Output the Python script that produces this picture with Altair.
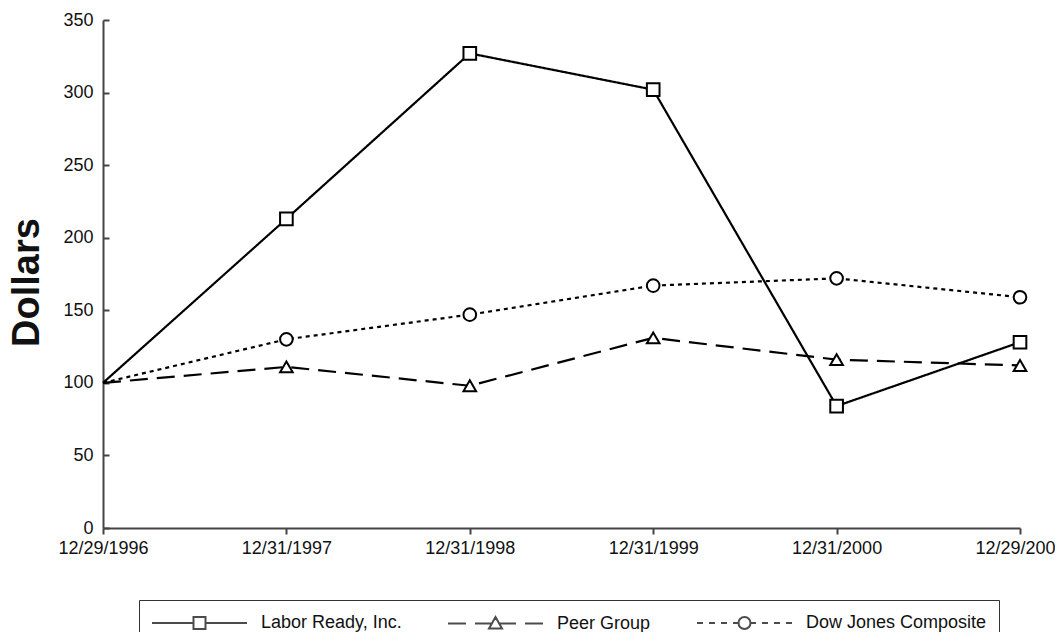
import altair as alt
import pandas as pd

dates = ["12/29/1996", "12/31/1997", "12/31/1998", "12/31/1999", "12/31/2000", "12/29/2001"]
series = ["Labor Ready, Inc.", "Peer Group", "Dow Jones Composite"]
labor_ready = [100, 213, 327, 302, 84, 128]
peer_group = [100, 111, 98, 131, 116, 112]
dow_jones = [100, 130, 147, 167, 172, 159]
y_ticks = [0, 50, 100, 150, 200, 250, 300, 350]

rows = []
for name, vals in zip(series, [labor_ready, peer_group, dow_jones]):
    for d, v in zip(dates, vals):
        rows.append({"date": d, "value": v, "series": name})
df = pd.DataFrame(rows)

FONT = "Liberation Sans, Arial, Helvetica, sans-serif"
W, H = 917, 508

# legend symbols: line + marker drawn as one path (units scale 10px)
legend_paths = [
    "M-1,0L3.15,0M4.35,0L8.5,0M3.15,-0.6L4.35,-0.6L4.35,0.6L3.15,0.6Z",
    "M-1,0L0.8,0M1.7,0L3.38,0M4.12,0L5.8,0M6.7,0L8.5,0M3.75,-0.65L4.4,0.5L3.1,0.5Z",
    "M-1,0L-0.4,0M0.2,0L0.8,0M1.4,0L2,0M2.6,0L3.15,0M4.35,0L4.9,0M5.5,0L6.1,0M6.7,0L7.3,0M7.9,0L8.5,0"
    "M4.35,0C4.35,0.3314 4.0814,0.6 3.75,0.6C3.4186,0.6 3.15,0.3314 3.15,0"
    "C3.15,-0.3314 3.4186,-0.6 3.75,-0.6C4.0814,-0.6 4.35,-0.3314 4.35,0Z",
]

x_enc = alt.X(
    "date:O",
    sort=dates,
    scale=alt.Scale(type="point", padding=0),
    axis=alt.Axis(
        title=None, labelAngle=0, labelFont=FONT, labelFontSize=18, labelColor="#111",
        domainColor="#444", domainWidth=2, tickColor="#444", tickWidth=2, tickSize=6,
        labelPadding=5, grid=False,
    ),
)

y_scale = alt.Scale(domain=[0, 350], nice=False)

lines = alt.Chart(df).mark_line(color="black", strokeWidth=2.2).encode(
    x=x_enc,
    y=alt.Y(
        "value:Q",
        scale=y_scale,
        axis=alt.Axis(
            orient="left", values=y_ticks, title="Dollars", titleFont=FONT,
            titleFontSize=38, titleFontWeight="bold", titleColor="#111", titleAngle=270,
            titleX=-76, titleY=262, titleAlign="center", titleBaseline="middle",
            labelFont=FONT, labelFontSize=18, labelColor="#111", labelPadding=10,
            ticks=False, tickSize=0, domainColor="#444", domainWidth=2, grid=False,
        ),
    ),
    strokeDash=alt.StrokeDash(
        "series:N",
        scale=alt.Scale(domain=series, range=[[1, 0], [18, 9], [4, 4]]),
        legend=None,
    ),
    detail="series:N",
)

points = alt.Chart(df).transform_filter(
    alt.datum.date != dates[0]
).mark_point(filled=True, fill="white", stroke="black", strokeWidth=2, size=160, opacity=1).encode(
    x=x_enc,
    y=alt.Y(
        "value:Q",
        scale=y_scale,
        axis=alt.Axis(
            orient="right", offset=-W, values=y_ticks, labels=False, domain=False,
            ticks=True, tickSize=6, tickWidth=2, tickColor="#444", title=None, grid=False,
        ),
    ),
    shape=alt.Shape(
        "series:N",
        scale=alt.Scale(domain=series, range=["square", "triangle-up", "circle"]),
        legend=None,
    ),
)

legend_layer = alt.Chart(df).transform_filter("false").mark_point(
    filled=True, fill="white", stroke="black"
).encode(
    shape=alt.Shape(
        "series:N",
        scale=alt.Scale(domain=series, range=legend_paths),
        legend=alt.Legend(
            title=None, orient="none", legendX=36, legendY=580, direction="horizontal",
            strokeColor="#333", padding=12, columnPadding=42, labelOffset=88,
            symbolSize=400, symbolStrokeWidth=2, labelFont=FONT, labelFontSize=18,
            labelColor="#111", labelLimit=400,
        ),
    ),
)

chart = (
    alt.layer(lines, points, legend_layer)
    .resolve_scale(shape="independent")
    .resolve_axis(y="independent")
    .resolve_legend(shape="independent")
    .properties(
        width=W, height=H,
        autosize=alt.AutoSizeParams(type="none"),
        padding={"left": 95, "top": 12, "right": 35, "bottom": 104},
    )
    .configure_view(stroke=None)
)

chart.save("out.html", embed_options={"renderer": "svg", "actions": False})
